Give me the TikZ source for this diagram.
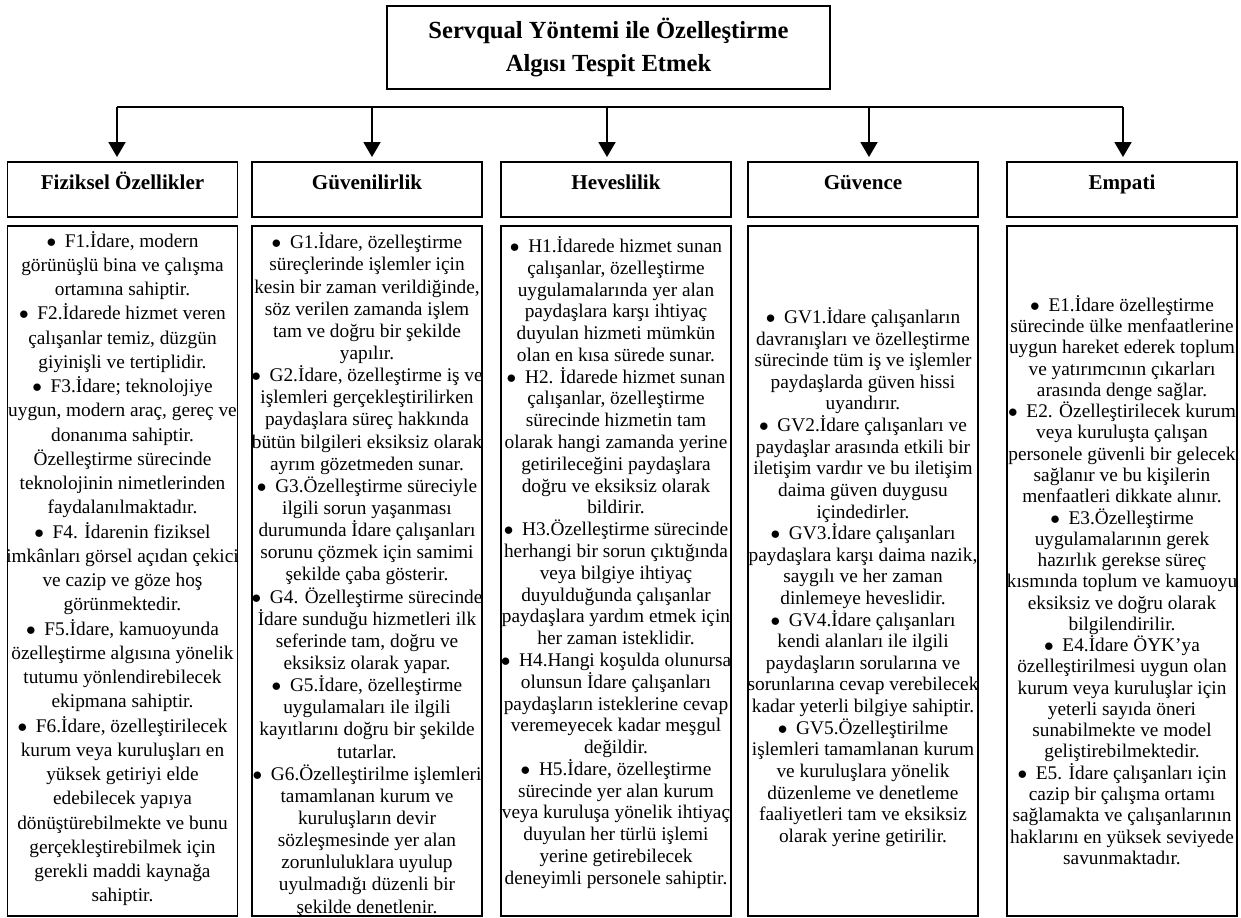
\documentclass[tikz,border=0pt]{standalone}
\usepackage{fontspec}
\setmainfont{Liberation Serif}
\usetikzlibrary{arrows.meta}
\newcommand{\blt}{$\bullet$\hspace{0.45em}}

\begin{document}
\begin{tikzpicture}[x=0.2mm,y=-0.2mm,
  titlebox/.style={draw,line width=1.1pt,minimum width=88.6mm,minimum height=16.6mm,align=center,font=\bfseries\fontsize{14}{18.3}\selectfont},
  headbox/.style={draw,line width=1.1pt,minimum width=46mm,minimum height=11mm,text height=2.9mm,text depth=2.8mm,font=\bfseries\fontsize{12}{14}\selectfont},
  itembox/.style={draw,line width=1.1pt,minimum width=46mm,minimum height=138mm},
  itemtext/.style={inner sep=0pt,align=center,font=\fontsize{11}{#1}\selectfont},
  link/.style={line width=1.1pt,-{Triangle[length=3mm,width=3.4mm]},shorten >=0.8mm}]
  \useasboundingbox (0,0) rectangle (1241,918);
  % top
  \node[titlebox] (title) at (608.5,47.5) {Servqual Yöntemi ile Özelleştirme\\Algısı Tespit Etmek};
  % headers and boxes
  \foreach \n/\x/\t in {1/122.5/Fiziksel Özellikler,2/367/Güvenilirlik,3/616/Heveslilik,4/863/Güvence,5/1122/Empati}{
    \node[headbox] (h\n) at (\x,189.5) {\t};
    \node[itembox] (c\n) at (\x,571) {};
  }
  % bar and arrows
  \foreach \n/\x in {1/117,2/372,3/607,4/869,5/1123}
    \coordinate (b\n) at (\x,107);
  \draw[line width=1.5pt] (b1) -- (b5);
  \foreach \n in {1,...,5}
    \draw[link] (b\n) -- (b\n |- h\n.north);
  % items
  \node[itemtext=13.8pt] (t1) at (122.5,568.5) {\blt F1.İdare, modern\\görünüşlü bina ve çalışma\\ortamına sahiptir.\\\blt F2.İdarede hizmet veren\\çalışanlar temiz, düzgün\\giyinişli ve tertiplidir.\\\blt F3.İdare; teknolojiye\\uygun, modern araç, gereç ve\\donanıma sahiptir.\\Özelleştirme sürecinde\\teknolojinin nimetlerinden\\faydalanılmaktadır.\\\blt F4. İdarenin fiziksel\\imkânları görsel açıdan çekici\\ve cazip ve göze hoş\\görünmektedir.\\\blt F5.İdare, kamuoyunda\\özelleştirme algısına yönelik\\tutumu yönlendirebilecek\\ekipmana sahiptir.\\\blt F6.İdare, özelleştirilecek\\kurum veya kuruluşları en\\yüksek getiriyi elde\\edebilecek yapıya\\dönüştürebilmekte ve bunu\\gerçekleştirebilmek için\\gerekli maddi kaynağa\\sahiptir.};
  \node[itemtext=12.6pt] (t2) at (367,575) {\blt G1.İdare, özelleştirme\\süreçlerinde işlemler için\\kesin bir zaman verildiğinde,\\söz verilen zamanda işlem\\tam ve doğru bir şekilde\\yapılır.\\\blt G2.İdare, özelleştirme iş ve\\işlemleri gerçekleştirilirken\\paydaşlara süreç hakkında\\bütün bilgileri eksiksiz olarak\\ayrım gözetmeden sunar.\\\blt G3.Özelleştirme süreciyle\\ilgili sorun yaşanması\\durumunda İdare çalışanları\\sorunu çözmek için samimi\\şekilde çaba gösterir.\\\blt G4. Özelleştirme sürecinde\\İdare sunduğu hizmetleri ilk\\seferinde tam, doğru ve\\eksiksiz olarak yapar.\\\blt G5.İdare, özelleştirme\\uygulamaları ile ilgili\\kayıtlarını doğru bir şekilde\\tutarlar.\\\blt G6.Özelleştirilme işlemleri\\tamamlanan kurum ve\\kuruluşların devir\\sözleşmesinde yer alan\\zorunluluklara uyulup\\uyulmadığı düzenli bir\\şekilde denetlenir.};
  \node[itemtext=12.4pt] (t3) at (616,562.5) {\blt H1.İdarede hizmet sunan\\çalışanlar, özelleştirme\\uygulamalarında yer alan\\paydaşlara karşı ihtiyaç\\duyulan hizmeti mümkün\\olan en kısa sürede sunar.\\\blt H2. İdarede hizmet sunan\\çalışanlar, özelleştirme\\sürecinde hizmetin tam\\olarak hangi zamanda yerine\\getirileceğini paydaşlara\\doğru ve eksiksiz olarak\\bildirir.\\\blt H3.Özelleştirme sürecinde\\herhangi bir sorun çıktığında\\veya bilgiye ihtiyaç\\duyulduğunda çalışanlar\\paydaşlara yardım etmek için\\her zaman isteklidir.\\\blt H4.Hangi koşulda olunursa\\olunsun İdare çalışanları\\paydaşların isteklerine cevap\\veremeyecek kadar meşgul\\değildir.\\\blt H5.İdare, özelleştirme\\sürecinde yer alan kurum\\veya kuruluşa yönelik ihtiyaç\\duyulan her türlü işlemi\\yerine getirebilecek\\deneyimli personele sahiptir.};
  \node[itemtext=12.3pt] (t4) at (863,577) {\blt GV1.İdare çalışanların\\davranışları ve özelleştirme\\sürecinde tüm iş ve işlemler\\paydaşlarda güven hissi\\uyandırır.\\\blt GV2.İdare çalışanları ve\\paydaşlar arasında etkili bir\\iletişim vardır ve bu iletişim\\daima güven duygusu\\içindedirler.\\\blt GV3.İdare çalışanları\\paydaşlara karşı daima nazik,\\saygılı ve her zaman\\dinlemeye heveslidir.\\\blt GV4.İdare çalışanları\\kendi alanları ile ilgili\\paydaşların sorularına ve\\sorunlarına cevap verebilecek\\kadar yeterli bilgiye sahiptir.\\\blt GV5.Özelleştirilme\\işlemleri tamamlanan kurum\\ve kuruluşlara yönelik\\düzenleme ve denetleme\\faaliyetleri tam ve eksiksiz\\olarak yerine getirilir.};
  \node[itemtext=12.1pt] (t5) at (1122,580) {\blt E1.İdare özelleştirme\\sürecinde ülke menfaatlerine\\uygun hareket ederek toplum\\ve yatırımcının çıkarları\\arasında denge sağlar.\\\blt E2. Özelleştirilecek kurum\\veya kuruluşta çalışan\\personele güvenli bir gelecek\\sağlanır ve bu kişilerin\\menfaatleri dikkate alınır.\\\blt E3.Özelleştirme\\uygulamalarının gerek\\hazırlık gerekse süreç\\kısmında toplum ve kamuoyu\\eksiksiz ve doğru olarak\\bilgilendirilir.\\\blt E4.İdare ÖYK’ya\\özelleştirilmesi uygun olan\\kurum veya kuruluşlar için\\yeterli sayıda öneri\\sunabilmekte ve model\\geliştirebilmektedir.\\\blt E5. İdare çalışanları için\\cazip bir çalışma ortamı\\sağlamakta ve çalışanlarının\\haklarını en yüksek seviyede\\savunmaktadır.};
\end{tikzpicture}
\end{document}
